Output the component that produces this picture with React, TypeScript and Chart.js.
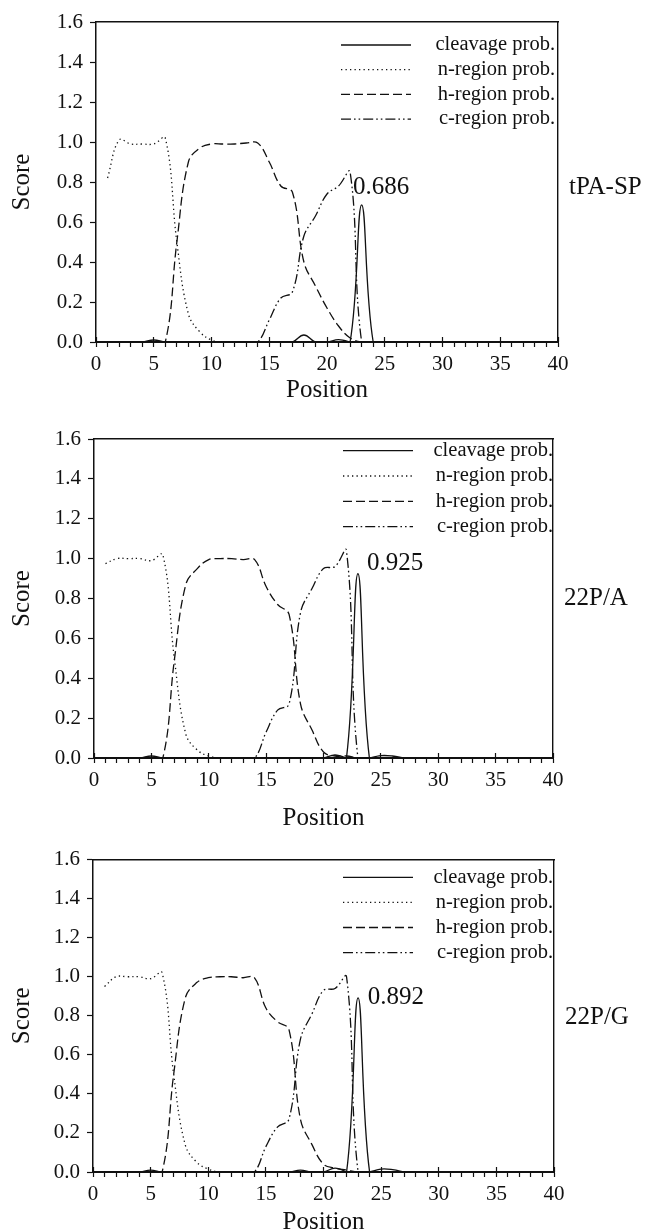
import React, { useEffect, useRef } from 'react';
import { Chart, registerables } from 'chart.js';

Chart.register(...registerables);
Chart.defaults.font.family = "'Liberation Serif', 'Times New Roman', serif";

// ---------- data ----------
const positions = [1, 2, 3, 4, 5, 6, 7, 8, 9, 10, 11, 12, 13, 14, 15, 16, 17, 18, 19, 20, 21, 22, 23, 24, 25, 26, 27];

const seriesLabels = ['cleavage prob.', 'n-region prob.', 'h-region prob.', 'c-region prob.'];
const panelNames = ['tPA-SP', '22P/A', '22P/G'];
const peakLabels = ['0.686', '0.925', '0.892'];
const peakLabelX = [22.25, 23.8, 23.85];
const peakLabelY = [0.775, 0.978, 0.892];
const sideLabelY = [0.775, 0.8, 0.79];

const xTickStep = 1;
const xLabelEvery = 5;
const yTickStep = 0.2;

// tPA-SP
const tpaCleavage = [0, 0, 0, 0, 0.01, 0, 0, 0, 0, 0, 0, 0, 0, 0, 0, 0, 0, 0.035, 0, 0, 0.012, 0, 0.686, 0, 0, 0, 0];
const tpaNRegion = [0.82, 1.01, 0.99, 0.99, 0.99, 1.02, 0.5, 0.14, 0.05, 0.01, 0, 0, 0, 0, 0, 0, 0, 0, 0, 0, 0, 0, 0, 0, 0, 0, 0];
const tpaHRegion = [0, 0, 0, 0, 0, 0, 0.5, 0.9, 0.97, 0.99, 0.99, 0.99, 0.995, 0.995, 0.9, 0.78, 0.75, 0.4, 0.28, 0.17, 0.08, 0.02, 0, 0, 0, 0, 0];
const tpaCRegion = [0, 0, 0, 0, 0, 0, 0, 0, 0, 0, 0, 0, 0, 0, 0.11, 0.22, 0.25, 0.53, 0.63, 0.74, 0.78, 0.85, 0, 0, 0, 0, 0];

// 22P/A
const paCleavage = [0, 0, 0, 0, 0.01, 0, 0, 0, 0, 0, 0, 0, 0, 0, 0, 0, 0, 0, 0, 0, 0.015, 0, 0.925, 0, 0.012, 0.01, 0];
const paNRegion = [0.975, 1.0, 1.0, 1.0, 0.99, 1.02, 0.5, 0.12, 0.04, 0.01, 0, 0, 0, 0, 0, 0, 0, 0, 0, 0, 0, 0, 0, 0, 0, 0, 0];
const paHRegion = [0, 0, 0, 0, 0, 0, 0.49, 0.87, 0.95, 0.995, 1.0, 1.0, 0.995, 0.995, 0.86, 0.77, 0.72, 0.27, 0.14, 0.03, 0.01, 0.01, 0, 0, 0, 0, 0];
const paCRegion = [0, 0, 0, 0, 0, 0, 0, 0, 0, 0, 0, 0, 0, 0, 0.13, 0.24, 0.27, 0.73, 0.85, 0.95, 0.96, 1.04, 0, 0, 0, 0, 0];

// 22P/G
const pgCleavage = [0, 0, 0, 0, 0.01, 0, 0, 0, 0, 0, 0, 0, 0, 0, 0, 0, 0, 0.01, 0, 0, 0.02, 0, 0.892, 0, 0.015, 0.012, 0];
const pgNRegion = [0.95, 1.0, 1.0, 1.0, 0.99, 1.02, 0.5, 0.14, 0.05, 0.015, 0, 0, 0, 0, 0, 0, 0, 0, 0, 0, 0, 0, 0, 0, 0, 0, 0];
const pgHRegion = [0, 0, 0, 0, 0, 0, 0.5, 0.89, 0.97, 0.995, 1.0, 1.0, 0.995, 0.995, 0.84, 0.77, 0.73, 0.27, 0.14, 0.04, 0.02, 0.01, 0, 0, 0, 0, 0];
const pgCRegion = [0, 0, 0, 0, 0, 0, 0, 0, 0, 0, 0, 0, 0, 0, 0.13, 0.23, 0.27, 0.68, 0.81, 0.93, 0.94, 1.0, 0, 0, 0, 0, 0];

const panelSeries = [
  [tpaCleavage, tpaNRegion, tpaHRegion, tpaCRegion],
  [paCleavage, paNRegion, paHRegion, paCRegion],
  [pgCleavage, pgNRegion, pgHRegion, pgCRegion],
];

// ---------- styles / layout ----------
const INK = '#111';
const LINE_W = 1.3;
const dashes: number[][] = [[], [1.3, 3.2], [9, 4], [10, 3, 1.6, 3, 1.6, 3]];

const panels = [
  { top: 0, height: 415, areaLeft: 96, areaRight: 558, areaTop: 22, areaBottom: 342, titlePad: 10, tickPad: 5,
    legendLineX: 341, legendRow1: 45, legendGap: 4.2, legendTextRight: 553 },
  { top: 415, height: 425, areaLeft: 94, areaRight: 553, areaTop: 24, areaBottom: 343, titlePad: 7, tickPad: 4.4,
    legendLineX: 343, legendRow1: 35.7, legendGap: 4.8, legendTextRight: 551 },
  { top: 840, height: 392, areaLeft: 93, areaRight: 554, areaTop: 18, areaBottom: 332, titlePad: -5, tickPad: 5,
    legendLineX: 343, legendRow1: 37.3, legendGap: 4.6, legendTextRight: 551 },
];

const LEGEND_FONT = 20.5;
const W = 646;

function makeConfig(i: number): any {
  const p = panels[i];
  const series = panelSeries[i];
  const legendPlacer = {
    id: 'legendPlacer',
    afterLayout(chart: any) {
      const lg = chart.legend;
      if (!lg) return;
      lg.left = p.legendLineX - p.legendGap;
      lg.right = p.legendTextRight + 2;
      lg.top = p.legendRow1 - LEGEND_FONT / 2 - p.legendGap;
      lg.bottom = chart.chartArea.bottom;
      lg.width = lg.right - lg.left;
      lg.height = lg.bottom - lg.top;
    },
  };
  const textLabels = {
    id: 'panelLabels',
    afterDraw(chart: any) {
      const { ctx, chartArea, scales } = chart;
      ctx.save();
      ctx.fillStyle = INK;
      ctx.textBaseline = 'middle';
      ctx.textAlign = 'left';
      ctx.font = "25px 'Liberation Serif', serif";
      ctx.fillText(peakLabels[i], scales.x.getPixelForValue(peakLabelX[i]), scales.y.getPixelForValue(peakLabelY[i]));
      ctx.fillText(panelNames[i], chartArea.right + 11, scales.y.getPixelForValue(sideLabelY[i]));
      ctx.restore();
    },
  };
  return {
    type: 'line',
    data: {
      datasets: seriesLabels.map((label, k) => ({
        label,
        data: positions.map((x, j) => ({ x, y: series[k][j] })),
        borderColor: INK,
        backgroundColor: INK,
        borderWidth: LINE_W,
        borderDash: dashes[k],
        pointRadius: 0,
        pointHoverRadius: 0,
        tension: 0.4,
        fill: false,
      })),
    },
    options: {
      responsive: false,
      animation: false,
      devicePixelRatio: 1,
      events: [],
      layout: { padding: { top: p.areaTop, left: 0, right: W - p.areaRight, bottom: 0 } },
      scales: {
        x: {
          type: 'linear',
          position: 'bottom',
          min: 0,
          max: 40,
          afterFit: (s: any) => { s.height = p.height - p.areaBottom; },
          ticks: {
            stepSize: xTickStep,
            autoSkip: false,
            maxRotation: 0,
            padding: p.tickPad,
            color: INK,
            font: { size: 21 },
            callback: (v: any) => (Number(v) % xLabelEvery === 0 ? String(v) : ''),
          },
          grid: { display: true, drawOnChartArea: false, drawTicks: true, tickLength: 5, color: INK, tickWidth: 1.2 },
          border: { display: true, color: INK, width: 2 },
          title: { display: true, text: 'Position', color: INK, font: { size: 25 }, padding: { top: 0, bottom: p.titlePad } },
        },
        xMajor: {
          type: 'linear',
          position: { y: 0 },
          min: 0,
          max: 40,
          ticks: { display: false, stepSize: xLabelEvery, autoSkip: false },
          grid: { display: true, drawOnChartArea: false, drawTicks: true, tickLength: -5, color: INK, tickWidth: 1.2 },
          border: { display: false },
        },
        xTop: {
          type: 'linear',
          position: 'top',
          min: 0,
          max: 40,
          afterFit: (s: any) => { s.height = 0; },
          ticks: { display: false },
          grid: { display: false, drawTicks: false },
          border: { display: true, color: INK, width: 1.4 },
        },
        y: {
          type: 'linear',
          position: 'left',
          min: 0,
          max: 1.6,
          afterFit: (s: any) => { s.width = p.areaLeft; },
          ticks: {
            stepSize: yTickStep,
            padding: 7,
            color: INK,
            font: { size: 21 },
            callback: (v: any) => Number(v).toFixed(1),
          },
          grid: { display: true, drawOnChartArea: false, drawTicks: true, tickLength: 6, color: INK, tickWidth: 1.2 },
          border: { display: true, color: INK, width: 1.5 },
          title: { display: true, text: 'Score', color: INK, font: { size: 25 }, padding: { top: 7.7, bottom: 0 } },
        },
        yRight: {
          type: 'linear',
          position: 'right',
          min: 0,
          max: 1.6,
          afterFit: (s: any) => { s.width = 0; },
          ticks: { display: false },
          grid: { display: false, drawTicks: false },
          border: { display: true, color: INK, width: 1.4 },
        },
      },
      plugins: {
        legend: {
          display: true,
          position: 'chartArea',
          align: 'start',
          labels: {
            usePointStyle: true,
            pointStyle: 'line',
            pointStyleWidth: 70,
            color: INK,
            font: { size: LEGEND_FONT },
            padding: p.legendGap,
            textAlign: 'right',
            generateLabels: (chart: any) =>
              chart.data.datasets.map((ds: any, k: number) => ({
                text: ds.label,
                fillStyle: INK,
                strokeStyle: INK,
                fontColor: INK,
                lineWidth: LINE_W,
                lineDash: ds.borderDash,
                lineCap: 'butt',
                lineJoin: 'miter',
                lineDashOffset: 0,
                pointStyle: 'line',
                rotation: 0,
                hidden: false,
                datasetIndex: k,
                textAlign: 'right',
              })),
          },
        },
        tooltip: { enabled: false },
      },
    },
    plugins: [legendPlacer, textLabels],
  };
}

function Panel({ index }: { index: number }) {
  const ref = useRef<HTMLCanvasElement | null>(null);
  const p = panels[index];
  useEffect(() => {
    if (!ref.current) return;
    const chart = new Chart(ref.current, makeConfig(index));
    return () => chart.destroy();
  }, [index]);
  return (
    <canvas
      ref={ref}
      width={W}
      height={p.height}
      style={{ position: 'absolute', left: 0, top: p.top, width: W, height: p.height, display: 'block' }}
    />
  );
}

export default function App() {
  return (
    <div style={{ position: 'absolute', left: 0, top: 0, width: W, height: 1232, background: '#fff', overflow: 'hidden' }}>
      {panels.map((_, i) => (
        <Panel key={i} index={i} />
      ))}
    </div>
  );
}
